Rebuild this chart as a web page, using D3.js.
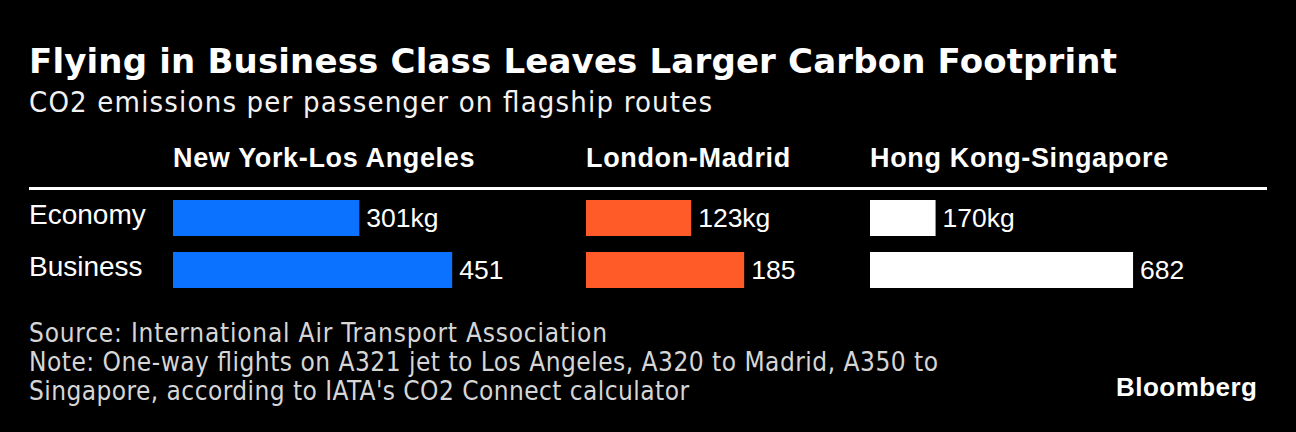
<!DOCTYPE html>
<html>
<head>
<meta charset="utf-8">
<script src="https://cdn.jsdelivr.net/npm/d3@7"></script>
<style>
  html, body { margin: 0; padding: 0; background: #000; }
  svg { display: block; }
</style>
</head>
<body>
<svg id="chart" width="1296" height="432"></svg>
<script>
// ---- data ----
const routes = ["New York-Los Angeles", "London-Madrid", "Hong Kong-Singapore"];
const classes = ["Economy", "Business"];
const economy = [301, 123, 170];
const business = [451, 185, 682];
const routeColors = ["#0a72ff", "#ff5b29", "#ffffff"];
const domainMax = [500, 200, 700];

const title = "Flying in Business Class Leaves Larger Carbon Footprint";
const subtitle = "CO2 emissions per passenger on flagship routes";
const footLines = [
  "Source: International Air Transport Association",
  "Note: One-way flights on A321 jet to Los Angeles, A320 to Madrid, A350 to",
  "Singapore, according to IATA's CO2 Connect calculator"
];

// ---- layout ----
const W = 1296, H = 432;
const left = 29, right = 1267;
const panelX = [173, 586, 870];
const panelW = [309.5, 171, 270];
const condensed = "'DejaVu Sans Condensed', 'DejaVu Sans', sans-serif";
const dejavu = "'DejaVu Sans', sans-serif";
const sans = "'Liberation Sans', Arial, Helvetica, sans-serif";

const svg = d3.select("#chart");
svg.append("rect").attr("width", W).attr("height", H).attr("fill", "#000");

svg.append("text")
  .attr("x", left).attr("y", 73)
  .attr("font-family", dejavu).attr("font-weight", "bold").attr("font-size", 34)
  .attr("fill", "#fff").attr("textLength", 1088)
  .text(title);

svg.append("text")
  .attr("x", left).attr("y", 112)
  .attr("font-family", condensed).attr("font-size", 29)
  .attr("fill", "#f2f2f2").attr("textLength", 683)
  .text(subtitle);

// row scale
const y = d3.scaleBand().domain(classes).range([200, 288]).paddingInner(16 / 52).paddingOuter(0);

// header rule
svg.append("line")
  .attr("x1", left).attr("x2", right)
  .attr("y1", 188.5).attr("y2", 188.5)
  .attr("stroke", "#fff").attr("stroke-width", 3);

// row labels
svg.append("g").selectAll("text")
  .data(classes)
  .join("text")
  .attr("x", left)
  .attr("y", d => y(d) + y.bandwidth() / 2 + 6)
  .attr("font-family", sans).attr("font-size", 28)
  .attr("fill", "#fff")
  .text(d => d);

// panels
routes.forEach((route, i) => {
  const x = d3.scaleLinear().domain([0, domainMax[i]]).range([0, panelW[i]]);
  const g = svg.append("g").attr("transform", `translate(${panelX[i]},0)`);

  g.append("text")
    .attr("x", 0).attr("y", 167)
    .attr("font-family", sans).attr("font-weight", "bold").attr("font-size", 27)
    .attr("letter-spacing", 0.65)
    .attr("fill", "#fff")
    .text(route);

  const vals = [
    { cls: classes[0], v: economy[i], label: economy[i] + "kg" },
    { cls: classes[1], v: business[i], label: String(business[i]) }
  ];

  g.selectAll("rect")
    .data(vals)
    .join("rect")
    .attr("x", x(0))
    .attr("y", d => y(d.cls))
    .attr("width", d => x(d.v) - x(0))
    .attr("height", y.bandwidth())
    .attr("fill", routeColors[i]);

  g.selectAll("text.val")
    .data(vals)
    .join("text")
    .attr("class", "val")
    .attr("x", d => x(d.v) + 7)
    .attr("y", d => y(d.cls) + y.bandwidth() / 2 + 9)
    .attr("font-family", sans).attr("font-size", 26.5)
    .attr("fill", "#fff")
    .text(d => d.label);
});

// footer
const footWidths = [578, 909, 660];
svg.append("g").selectAll("text")
  .data(footLines)
  .join("text")
  .attr("x", left)
  .attr("y", (d, i) => 342 + i * 29)
  .attr("font-family", condensed).attr("font-size", 26)
  .attr("fill", "#d6d6d6")
  .attr("textLength", (d, i) => footWidths[i])
  .text(d => d);

svg.append("text")
  .attr("x", 1257).attr("y", 396)
  .attr("text-anchor", "end")
  .attr("font-family", sans).attr("font-weight", "bold").attr("font-size", 26)
  .attr("fill", "#fff")
  .attr("textLength", 141)
  .text("Bloomberg");
</script>
</body>
</html>
